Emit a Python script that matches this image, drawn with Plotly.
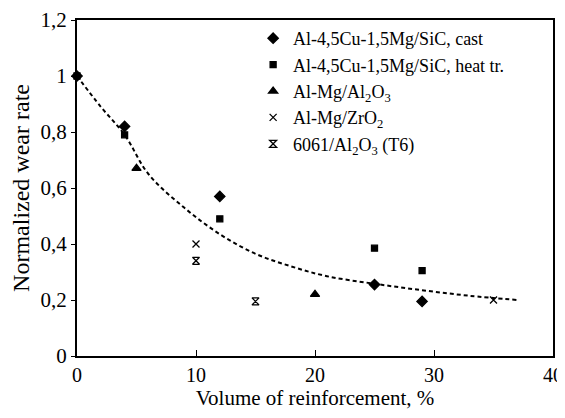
import plotly.graph_objects as go

# points (volume %, normalized wear rate)
cast_x = [0, 4, 12, 25, 29]
cast_y = [1.0, 0.82, 0.57, 0.255, 0.195]

heat_x = [0, 4, 12, 25, 29]
heat_y = [1.0, 0.79, 0.49, 0.385, 0.305]

almg_al2o3_x = [5, 20]
almg_al2o3_y = [0.67, 0.22]

almg_zro2_x = [10, 35]
almg_zro2_y = [0.40, 0.20]

t6_x = [10, 15]
t6_y = [0.34, 0.195]

# dashed trend line
trend_x = [0, 2, 4, 6, 9, 12, 15, 18, 21, 25, 29, 33, 37]
trend_y = [1.0, 0.89, 0.79, 0.65, 0.53, 0.435, 0.365, 0.32, 0.285, 0.258, 0.235, 0.215, 0.20]

serif = "Liberation Serif"

fig = go.Figure()

fig.add_trace(go.Scatter(
    x=trend_x, y=trend_y, mode="lines", line_shape="spline",
    line=dict(color="black", width=2, dash="4px,3px"),
    showlegend=False, hoverinfo="skip"))

series = [
    (cast_x, cast_y, "diamond", 8, "Al-4,5Cu-1,5Mg/SiC, cast"),
    (heat_x, heat_y, "square", 6, "Al-4,5Cu-1,5Mg/SiC, heat tr."),
    (almg_al2o3_x, almg_al2o3_y, "triangle-up", 8, "Al-Mg/Al<sub>2</sub>O<sub>3</sub>"),
    (almg_zro2_x, almg_zro2_y, "x-thin-open", 7, "Al-Mg/ZrO<sub>2</sub>"),
    (t6_x, t6_y, "hourglass-open", 7, "6061/Al<sub>2</sub>O<sub>3</sub> (T6)"),
]
for xs, ys, sym, size, name in series:
    fig.add_trace(go.Scatter(
        x=xs, y=ys, mode="markers", name=name, cliponaxis=False,
        marker=dict(symbol=sym, size=size, color="black",
                    line=dict(color="black", width=1.3))))

# the page body adds an 8px margin all round, so keep the figure inside it
fig.update_layout(
    width=557, height=402,
    margin=dict(l=69, r=12, t=12, b=54),
    paper_bgcolor="white", plot_bgcolor="white",
    separators=", ",
    font=dict(family=serif, size=21, color="black"),
    legend=dict(x=0.37, y=1.0, xanchor="left", yanchor="top",
                font=dict(family=serif, size=18, color="black"),
                itemwidth=30, bgcolor="rgba(0,0,0,0)", tracegroupgap=0),
    xaxis=dict(range=[0, 40], tickvals=[0, 10, 20, 30, 40],
               showgrid=False, zeroline=False, automargin=False,
               ticklabeloverflow="allow", tickfont=dict(size=20),
               showline=True, linecolor="black", linewidth=2, mirror=True,
               ticks="inside", ticklen=6, tickcolor="black", tickwidth=1,
               title=dict(text="Volume of reinforcement, %", standoff=8,
                          font=dict(size=21))),
    yaxis=dict(range=[0, 1.2], tickvals=[0, 0.2, 0.4, 0.6, 0.8, 1, 1.2],
               showgrid=False, zeroline=False, automargin=False,
               ticklabeloverflow="allow",
               showline=True, linecolor="black", linewidth=2, mirror=True,
               ticks="outside", ticklen=4, tickcolor="black", tickwidth=1,
               title=dict(text="Normalized wear rate", standoff=10,
                          font=dict(size=24))),
)

fig.write_html("out.html")
